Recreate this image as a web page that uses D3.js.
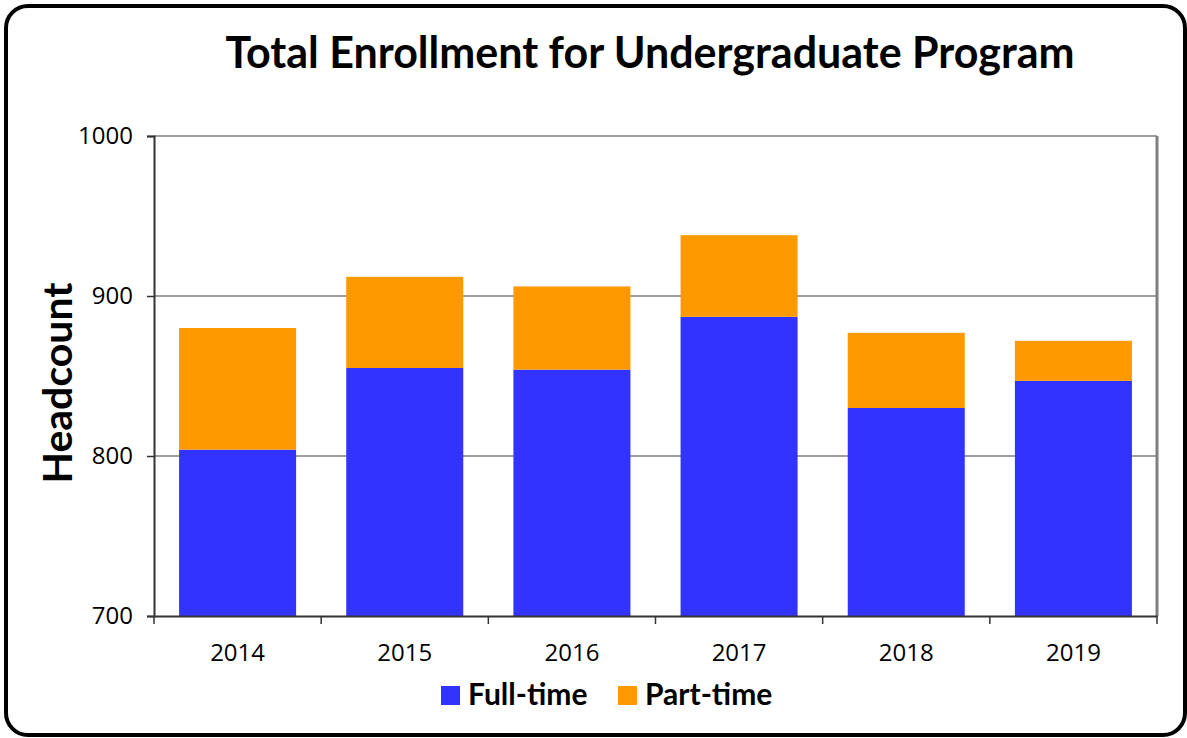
<!DOCTYPE html>
<html>
<head>
<meta charset="utf-8">
<script src="https://cdn.jsdelivr.net/npm/d3@7"></script>
<style>
  body { margin: 0; background: #fff; }
  svg text { font-family: Lato, "Open Sans", sans-serif; }
</style>
</head>
<body>
<svg id="chart"></svg>
<script>
var years = ["2014", "2015", "2016", "2017", "2018", "2019"];
var fullTime = [804, 855, 854, 887, 830, 847];
var partTime = [76, 57, 52, 51, 47, 25];
var seriesNames = ["Full-time", "Part-time"];
var yTicks = [700, 800, 900, 1000];

var width = 1187, height = 738;
var margin = {left: 154, right: 30, top: 136, bottom: 122};
var colors = ["#3333FF", "#FF9900"];

var svg = d3.select("#chart").attr("width", width).attr("height", height);

// outer frame
svg.append("rect")
  .attr("x", 6).attr("y", 6)
  .attr("width", width - 8).attr("height", height - 9)
  .attr("rx", 22).attr("ry", 22)
  .attr("fill", "white")
  .attr("stroke", "black")
  .attr("stroke-width", 4);

var x = d3.scaleBand()
  .domain(years)
  .range([margin.left, width - margin.right])
  .paddingInner(0.3)
  .paddingOuter(0.15);

var y = d3.scaleLinear()
  .domain([700, 1000])
  .range([height - margin.bottom, margin.top]);

// gridlines
svg.append("g").selectAll("line")
  .data(yTicks.slice(1))
  .enter().append("line")
  .attr("x1", margin.left).attr("x2", width - margin.right)
  .attr("y1", function(d) { return y(d); })
  .attr("y2", function(d) { return y(d); })
  .attr("stroke", "#7f7f7f")
  .attr("stroke-width", 1.5);

// right border of plot
svg.append("line")
  .attr("x1", width - margin.right).attr("x2", width - margin.right)
  .attr("y1", y(1000)).attr("y2", y(700))
  .attr("stroke", "#7f7f7f").attr("stroke-width", 3);

var rows = years.map(function(yr, i) {
  return {year: yr, "Full-time": fullTime[i], "Part-time": partTime[i]};
});
var stacked = d3.stack().keys(seriesNames)(rows);

svg.append("g").selectAll("g")
  .data(stacked)
  .enter().append("g")
  .attr("fill", function(d, i) { return colors[i]; })
  .selectAll("rect")
  .data(function(d) { return d; })
  .enter().append("rect")
  .attr("x", function(d) { return x(d.data.year); })
  .attr("width", x.bandwidth())
  .attr("y", function(d) { return y(d[1]); })
  .attr("height", function(d) { return y(Math.max(d[0], 700)) - y(d[1]); });

// y axis
var yAxis = svg.append("g")
  .attr("transform", "translate(" + margin.left + ",0)")
  .call(d3.axisLeft(y).tickValues(yTicks).tickSize(7).tickPadding(14).tickFormat(d3.format("d")));
yAxis.select(".domain").attr("stroke", "#333").attr("stroke-width", 2);
yAxis.selectAll(".tick line").attr("stroke", "#333").attr("stroke-width", 1.5);
yAxis.selectAll("text").attr("font-size", 24).attr("fill", "#000")
  .style("font-family", "'Open Sans', sans-serif");

// x axis
var xAxis = svg.append("g")
  .attr("transform", "translate(0," + y(700) + ")")
  .call(d3.axisBottom(x).tickSize(0).tickPadding(28));
xAxis.select(".domain").attr("stroke", "#333").attr("stroke-width", 2);
xAxis.selectAll("text").attr("font-size", 24).attr("fill", "#000")
  .style("font-family", "'Open Sans', sans-serif");
// category boundary ticks
xAxis.append("g").selectAll("line")
  .data(d3.range(years.length + 1))
  .enter().append("line")
  .attr("x1", function(i) { return margin.left + i * (width - margin.right - margin.left) / years.length; })
  .attr("x2", function(i) { return margin.left + i * (width - margin.right - margin.left) / years.length; })
  .attr("y1", 0).attr("y2", 8)
  .attr("stroke", "#333").attr("stroke-width", 1.5);

// title
svg.append("text")
  .attr("x", 650).attr("y", 68)
  .attr("text-anchor", "middle")
  .attr("font-size", 43)
  .attr("font-weight", "bold")
  .text("Total Enrollment for Undergraduate Program");

// y label
svg.append("text")
  .attr("transform", "translate(72,383) rotate(-90)")
  .attr("text-anchor", "middle")
  .attr("font-size", 41)
  .attr("font-weight", "bold")
  .text("Headcount");

// legend
var legendX = [441, 618];
var legend = svg.append("g").selectAll("g")
  .data(seriesNames)
  .enter().append("g")
  .attr("transform", function(d, i) { return "translate(" + legendX[i] + ",686)"; });
legend.append("rect")
  .attr("width", 19).attr("height", 19)
  .attr("fill", function(d, i) { return colors[i]; });
legend.append("text")
  .attr("x", 27).attr("y", 19)
  .attr("font-size", 30)
  .attr("font-weight", "bold")
  .text(function(d) { return d; });
</script>
</body>
</html>
